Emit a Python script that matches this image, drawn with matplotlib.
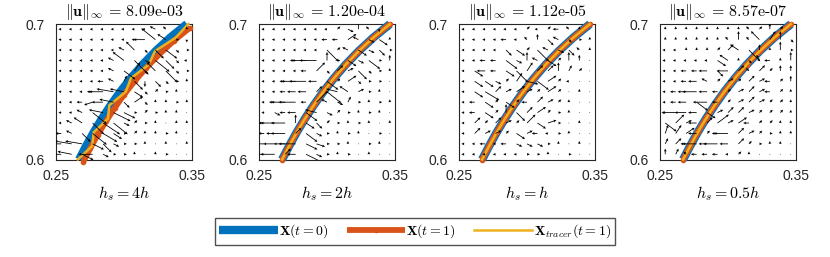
import numpy as np
import matplotlib
matplotlib.use("Agg")
import matplotlib.pyplot as plt

plt.rcParams['mathtext.fontset'] = 'cm'
plt.rcParams['font.family'] = ['Liberation Sans', 'DejaVu Sans']

# panel titles / labels
norms = ["8.09e-03", "1.20e-04", "1.12e-05", "8.57e-07"]
hs_labels = ["4h", "2h", "h", "0.5h"]

# reference curve X(t=0)
x0 = [0.2670, 0.2722, 0.2777, 0.2837, 0.2902, 0.2973, 0.3051, 0.3137, 0.3233, 0.3341, 0.3463]
y0 = [0.600, 0.610, 0.620, 0.630, 0.640, 0.650, 0.660, 0.670, 0.680, 0.690, 0.700]

# X(t=1) for the coarsest case (shifted off the initial curve)
x1_first = [0.2701, 0.2753, 0.2807, 0.2867, 0.2931, 0.3001, 0.3078, 0.3163, 0.3258, 0.3364, 0.3485]
y1_first = [0.5984, 0.6084, 0.6183, 0.6281, 0.6380, 0.6479, 0.6578, 0.6676, 0.6775, 0.6874, 0.6973]
# tracer for the coarsest case (wiggles between the two)
xt_first = [0.2660, 0.2767, 0.2777, 0.2882, 0.2892, 0.3013, 0.3051, 0.3182, 0.3228, 0.3381, 0.3473]
yt_first = y0

# velocity fields on a 13x13 grid, rows from top to bottom (arbitrary units per panel)
U1 = [[-1,-1,-1,-1,-1,-1,-1,-1,-1,-2,-1, 0, 0],
      [-1,-1,-1,-1,-1,-1,-1,-1,-4,-5,-3, 1, 0],
      [-1,-1,-1,-1,-1,-1,-2,-3, 1, 3, 4, 1, 1],
      [-1,-1,-1,-1,-1,-2,-4, 5, 2, 5, 3, 1,-1],
      [-1,-1,-1,-1,-1,-2, 4, 2, 1,-3, 4, 1, 1],
      [-1,-1,-1,-1,-2,-2, 1, 3, 0, 2, 1, 1, 0],
      [-1,-1,-1,-2,-5,-6,-5, 3, 1, 1, 1, 0, 0],
      [-1,-1,-2,-3,-4,-5, 2, 3, 1, 0, 0, 1, 0],
      [-1,-1,-2, 5,-5, 6, 4, 1, 1, 1, 0, 0, 0],
      [-1,-2,-3, 4, 6, 5, 2, 1, 1, 0, 0, 0, 0],
      [-2,-2, 3, 5, 5, 3, 1, 1, 0, 0, 1, 0, 0],
      [-3,-6,-6, 4, 3, 2, 1, 1, 0, 0, 0, 0, 0],
      [-4,-5, 4,-5, 2, 1, 1, 0, 0, 0, 1, 0, 0]]
V1 = [[ 0, 0, 0, 0, 0, 0, 0, 0, 0, 1, 1, 0, 1],
      [ 0, 0, 0, 0, 0, 0, 0, 0, 0, 4, 2, 0,-1],
      [ 0, 0, 0, 0, 0, 0, 1, 3,-1,-3,-3,-1, 0],
      [ 0, 0, 0, 0, 0, 1, 3,-5,-1,-4,-3,-1, 0],
      [ 0, 0, 0, 0, 0, 1,-3, 3,-1, 3,-4,-1, 0],
      [ 0, 0, 0, 0, 0, 1, 2,-3,-2,-2,-1, 0, 1],
      [ 0, 0, 0, 0, 0, 1, 1,-2,-1, 1, 0, 1, 0],
      [ 0, 0, 0,-1, 0, 1,-2, 2,-1, 1, 1, 0, 1],
      [ 0, 0, 1,-4, 1,-3,-2, 0, 1, 0, 1, 1, 0],
      [ 0, 1, 2,-4,-4,-4,-1, 1, 0, 1, 0, 1, 1],
      [ 0, 1,-3,-4,-3,-2, 0, 1, 1, 1, 0, 1, 0],
      [ 0, 1, 1,-2,-3,-1, 0, 0, 1, 0, 1, 0, 1],
      [ 0, 1,-2, 0,-1, 0, 0, 1, 0, 1, 0, 0, 0]]

U2 = [[-1,-1,-1,-1,-1,-1,-1, 1, 2, 0,-1, 0, 0],
      [-1,-1,-1,-1,-1,-1,-2,-2, 3,-2, 2, 3, 0],
      [-1,-1,-1,-1,-1,-1, 4, 1,-2, 3, 2, 2, 1],
      [-1,-1,-1,-2,-5,-6, 0, 1, 3, 2, 4, 1, 0],
      [-1,-1,-1,-1,-2, 3, 1, 2, 2, 3, 1, 1, 0],
      [-1,-1,-2,-5,-6,-3, 4, 1, 3, 1, 1, 1, 0],
      [-1,-1,-2,-3,-3, 2, 5,-4,-3, 2, 1, 0, 0],
      [-1,-2,-5,-6,-2, 4,-2, 2, 1, 1, 0, 1, 0],
      [-1, 2,-2,-3, 4,-4, 2, 1, 1, 0, 1, 0, 0],
      [-2,-5,-5, 0, 3, 2, 1, 1, 0, 1, 0, 0, 0],
      [-2,-3,-5, 2, 4, 2, 1, 0, 1, 0, 0, 1, 0],
      [-5,-4,-4,-6, 4, 3, 1, 1, 0, 0, 1, 0, 0],
      [-4,-5, 2,-3, 6, 2, 1, 0, 1, 0, 0, 0, 0]]
V2 = [[ 0, 0, 0, 0, 0, 0, 0, 1,-1, 3, 1,-1, 0],
      [ 0, 0, 0, 0, 0, 0, 0, 0, 2, 1,-1,-2, 1],
      [ 0, 0, 0, 0, 0, 0,-4, 1, 1,-2,-1,-2, 0],
      [ 0, 0, 0, 0, 0, 0, 3, 0,-2,-1,-3, 0, 2],
      [ 0, 0, 0, 0, 0, 3,-1, 2, 1,-3,-1, 0, 1],
      [ 0, 0, 0, 0, 0, 0,-3, 1, 2,-1, 0, 0, 0],
      [ 0, 0, 0, 0, 0, 2,-4, 1, 2, 1, 0, 1, 0],
      [ 0, 0, 0, 0, 0, 4, 1,-1, 2, 0, 1, 0, 1],
      [ 0,-1, 0, 0,-3, 1,-1, 1, 0, 1, 0, 1, 0],
      [ 0, 0, 0, 3,-2,-2, 1, 0, 1, 0, 1, 0, 1],
      [ 0, 0, 0, 2,-3,-1, 0, 1, 0, 1, 0, 0, 0],
      [ 0, 0, 0, 0,-2,-1, 0, 0, 1, 0, 0, 1, 0],
      [ 0, 0, 2, 0,-3,-1, 0, 1, 0, 0, 1, 0, 0]]

U3 = [[-1,-1,-1,-1,-1,-1, 1,-1, 1,-2,-1, 0, 0],
      [-1,-1,-1,-1,-2,-1,-1, 0, 2,-2, 1, 1, 0],
      [-1,-1,-1,-1, 2, 3, 1, 4,-2, 2, 2,-1, 0],
      [-1,-1,-2,-2, 4, 2, 0,-2, 3, 1, 0, 0, 0],
      [-1, 3,-3,-2, 3, 4, 2, 2, 2, 0, 1, 1, 0],
      [-1, 3, 3, 2, 1, 2, 4, 4, 3, 1,-1, 0, 0],
      [-1, 3, 5, 2, 2, 3, 2, 1, 3, 1, 0, 0, 0],
      [-1,-2, 3, 1, 3, 1,-2, 2, 2, 1, 0, 0, 0],
      [-1,-2, 3, 1, 0, 3, 2, 3, 1, 1, 0, 0, 0],
      [-1, 2, 1, 2, 2, 1, 3, 3, 3, 1, 0, 0, 0],
      [-1, 2, 2, 2, 1, 3, 2,-2,-1, 1, 0, 0, 0],
      [-1,-1,-2,-1,-2, 2, 2, 2, 1, 0, 0, 0, 0],
      [-1,-1,-1,-1,-1,-1, 1, 1, 0, 0, 1, 0, 0]]
V3 = [[ 0, 0, 0, 0, 0, 0, 1, 0, 1, 0, 1, 1, 0],
      [ 0, 0, 0, 0, 0, 0, 1, 2,-2, 1,-1, 0, 1],
      [ 0, 0, 0, 0,-2,-2, 1,-4, 1,-1,-2, 1, 1],
      [ 0, 0, 0, 0,-3,-1, 3, 1,-2, 1, 3, 2, 0],
      [ 0,-2, 0, 0,-2,-4, 3, 2, 2, 3, 2, 1, 0],
      [ 0,-2,-2,-1, 1, 3,-1,-3, 2, 1, 0, 0, 0],
      [ 0,-2,-3, 2, 1, 2, 1, 1, 2, 1, 0, 1, 0],
      [ 0, 0,-2, 1,-2, 1, 0, 2, 1, 1, 1, 0, 0],
      [ 0, 0,-2, 1, 3,-3, 2, 2, 1, 0, 1, 0, 0],
      [ 0, 2, 1, 2, 1, 1, 3,-2, 1, 0, 0, 1, 0],
      [ 0, 2, 1, 1, 1,-2, 1, 0, 0, 0, 1, 0, 0],
      [ 0, 0, 0, 0, 0,-1,-1,-1, 0, 1, 0, 1, 0],
      [ 0, 0, 0, 0, 0, 0, 0, 0, 1, 0, 0, 0, 0]]

U4 = [[ 0, 0, 0, 0, 0, 0, 0, 0,-1, 1, 0, 1, 0],
      [ 0, 0, 0, 0, 0, 0,-1, 0,-1,-3, 2, 0, 1],
      [-1,-1, 0, 0, 0, 1, 2,-3, 4, 0, 0, 0, 1],
      [-1,-1,-1,-1,-1, 3,-3, 0, 1,-1,-2, 0, 0],
      [-1,-1,-2,-2,-3, 2,-4, 2,-1, 2, 1, 0, 0],
      [-1,-1,-2,-3,-2, 1, 2, 1, 2, 2,-2, 1, 0],
      [-1,-2,-3,-5,-3,-2, 1, 2, 2, 2,-2, 1, 0],
      [-1,-2,-3, 4,-5,-2, 1, 2, 2, 2, 1, 1, 0],
      [-1,-5,-4,-3, 3, 2, 2, 2, 2, 1, 1, 1, 0],
      [ 4, 3, 2,-3, 2, 4, 2, 3,-2, 1, 1, 0, 0],
      [ 1, 2, 3,-3, 1,-2,-5, 2, 2, 1, 1, 0, 0],
      [ 1, 2,-2,-5,-3,-5,-3, 2, 1, 1, 0, 0, 0],
      [ 0, 1,-1,-2,-2,-2,-1, 1, 0, 0, 0, 0, 0]]
V4 = [[ 1, 1, 1, 1, 1, 1, 1, 1, 1, 1, 2, 1, 0],
      [ 1, 1, 1, 1, 1, 1, 1, 3, 1, 3, 3, 3,-1],
      [ 0, 0, 1, 1, 1, 1, 2, 2,-4, 2, 1, 3, 0],
      [ 0, 0, 0, 0, 0,-2, 2, 1,-1, 2, 0, 1, 3],
      [ 0, 0, 0, 0, 0,-2, 0, 2, 1, 2, 1, 2, 2],
      [ 0, 0, 0, 0, 1, 1, 1, 1, 2, 1, 0, 1, 2],
      [ 0, 0, 0, 0, 0, 0, 1, 1, 2, 1, 0, 1, 1],
      [ 0, 0, 0,-3, 0, 0, 1, 1, 2, 1, 1, 1, 1],
      [ 0, 0, 0, 0,-2, 1, 2, 2, 1, 1, 1, 1, 1],
      [-3, 3, 1, 0, 2, 3, 1, 2, 0, 1, 1, 1, 1],
      [ 3, 3, 2, 0, 1, 0, 0, 2, 1, 1, 0, 1, 1],
      [ 2, 2, 0, 0, 0, 0, 0, 2, 1, 0, 1, 1, 0],
      [ 2, 2, 1, 0, 0, 0, 0, 1, 1, 0, 0, 0, 0]]

fields = [(U1, V1), (U2, V2), (U3, V3), (U4, V4)]

blue = '#0072BD'
orange = '#D95319'
yellow = '#EDB120'

n = 13
hgrid = 0.1 / n
gx = 0.25 + (np.arange(n) + 0.5) * hgrid
gy = 0.70 - (np.arange(n) + 0.5) * hgrid
GX, GY = np.meshgrid(gx, gy)

fig = plt.figure(figsize=(8.3, 2.57), dpi=100)
lefts = [56, 259, 459, 660]

for k in range(4):
    ax = fig.add_axes([lefts[k] / 830, 97.5 / 257, 136 / 830, 135.5 / 257])
    U, V = fields[k]

    if k == 0:
        x1, y1, xt, yt = x1_first, y1_first, xt_first, yt_first
    else:
        x1, y1, xt, yt = x0, y0, x0, y0
    ax.plot(x0, y0, color=blue, lw=6, solid_capstyle='butt', zorder=3,
            clip_on=False, label=r'$\mathbf{X}(t=0)$')
    ax.plot(x1, y1, color=orange, lw=4.2, marker='.', ms=6,
            solid_capstyle='butt', zorder=4, clip_on=False,
            label=r'$\mathbf{X}(t=1)$')
    ax.plot(xt, yt, color=yellow, lw=1.8, zorder=5, clip_on=False,
            label=r'$\mathbf{X}_{tracer}(t=1)$')

    # velocity arrows drawn on top of the curves
    ax.quiver(GX, GY, np.array(U, float), np.array(V, float),
              angles='xy', scale_units='xy', scale=6 / 0.0125,
              width=0.006, headwidth=3.5, headlength=3.5, headaxislength=3,
              color='k', zorder=6)

    ax.set_xlim(0.25, 0.35)
    ax.set_ylim(0.6, 0.7)
    ax.set_xticks([0.25, 0.35])
    ax.set_xticklabels(['0.25', '0.35'])
    ax.set_yticks([0.6, 0.7])
    ax.set_yticklabels(['0.6', '0.7'])
    ax.tick_params(direction='in', length=2.5, width=0.6, labelsize=10,
                   top=True, right=True, colors='#262626')
    ax.tick_params(axis='x', pad=7)
    ax.tick_params(axis='y', pad=8)
    for s in ax.spines.values():
        s.set_color('#262626')
        s.set_linewidth(0.8)

    ax.set_title(r'$\|\mathbf{u}\|_\infty$ = ' + norms[k], fontsize=11.5,
                 family='cmr10', pad=6)
    ax.set_xlabel(r'$h_s = ' + hs_labels[k] + '$', fontsize=11.5, labelpad=1)

    if k == 0:
        handles, labels = ax.get_legend_handles_labels()

leg = fig.legend(handles, labels, loc='center', ncol=3,
                 bbox_to_anchor=(415 / 830, 1 - 231.5 / 257),
                 fontsize=10, handlelength=4.2, handletextpad=0.1,
                 columnspacing=1.3, frameon=True, fancybox=False,
                 borderpad=0.3, borderaxespad=0)
leg.get_frame().set_edgecolor('#262626')
leg.get_frame().set_linewidth(1.0)

fig.savefig('out.png', dpi=100)
